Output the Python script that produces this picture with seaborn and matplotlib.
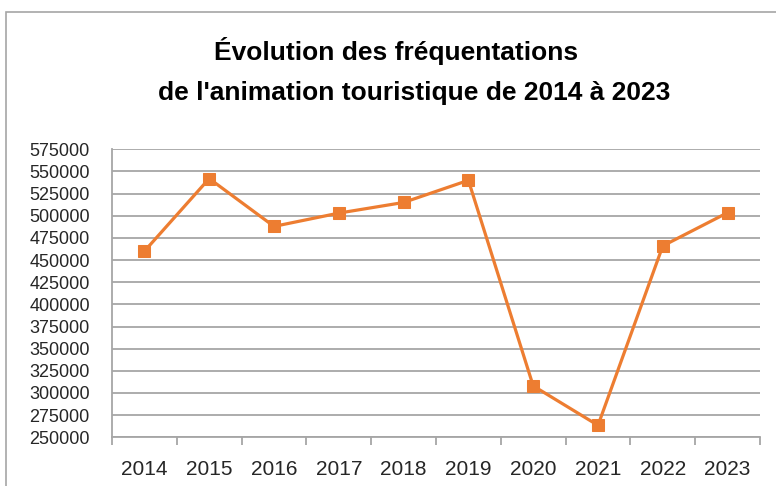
import matplotlib
matplotlib.use("Agg")
import matplotlib.pyplot as plt
import seaborn as sns
import pandas as pd
from matplotlib.patches import Rectangle
from matplotlib.ticker import FixedLocator

years = ["2014", "2015", "2016", "2017", "2018", "2019", "2020", "2021", "2022", "2023"]
visits = [460000, 542000, 488000, 503000, 515000, 540000, 308000, 263500, 466000, 503500]
title_lines = ["Évolution des fréquentations", "de l'animation touristique de 2014 à 2023"]
yticks = list(range(250000, 575001, 25000))

sns.set_theme(style="white")
plt.rcParams["font.family"] = ["Liberation Sans", "DejaVu Sans"]

df = pd.DataFrame({"year": years, "visits": visits})

fig = plt.figure(figsize=(7.76, 4.86), dpi=100)
ax = fig.add_axes([112/776, 1-437.3/486, (760-112)/776, (437.3-149.3)/486])

orange = "#ED7D31"
sns.lineplot(data=df, x="year", y="visits", ax=ax, color=orange, linewidth=2.3,
             marker="s", markersize=9, markeredgecolor=orange, sort=False)

ax.set_xlim(-0.5, len(years) - 0.5)
ax.set_ylim(250000, 575000)
ax.set_yticks(yticks)
ax.set_yticklabels([str(v) for v in yticks], fontsize=13, color="#262626")
ax.yaxis.grid(True, color="#A6A6A6", linewidth=1.3)
ax.xaxis.grid(False)
ax.set_xlabel("")
ax.set_ylabel("")
ax.tick_params(axis="y", length=0, pad=16)
ax.tick_params(axis="x", which="major", length=0, pad=16, labelsize=15, labelcolor="#262626")
ax.xaxis.set_minor_locator(FixedLocator([i - 0.5 for i in range(len(years) + 1)]))
ax.tick_params(axis="x", which="minor", length=6, width=1.3, color="#A6A6A6", bottom=True)

for s in ["top", "right"]:
    ax.spines[s].set_visible(False)
for s in ["left", "bottom"]:
    ax.spines[s].set_visible(True)
    ax.spines[s].set_color("#A6A6A6")
    ax.spines[s].set_linewidth(1.3)

fig.text(396/776, 1-51/486, title_lines[0], ha="center", va="center", fontsize=19,
         fontweight="bold", color="#000000")
fig.text(414/776, 1-93/486, title_lines[1], ha="center", va="center", fontsize=19,
         fontweight="bold", color="#000000")

fig.patches.append(Rectangle((6/776, -0.05), 1.0, 1-12/486 + 0.05, transform=fig.transFigure,
                             fill=False, edgecolor="#A6A6A6", linewidth=1.2))

fig.savefig("out.png", dpi=100, facecolor="white")
